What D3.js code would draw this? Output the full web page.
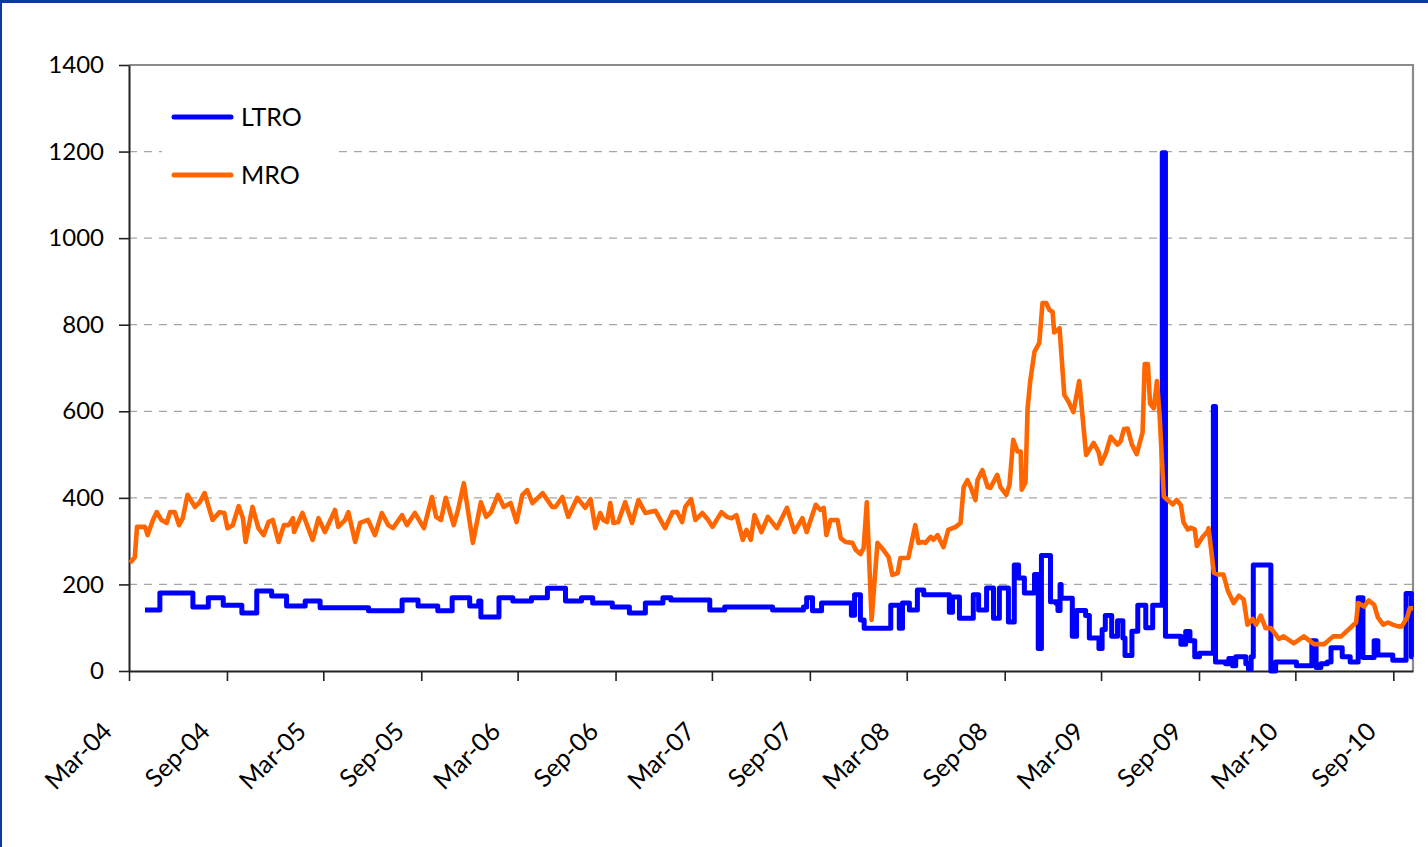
<!DOCTYPE html>
<html>
<head>
<meta charset="utf-8">
<script src="https://cdn.jsdelivr.net/npm/d3@7"></script>
<style>
  body { margin: 0; background: #fff; }
  svg text { font-family: Lato, "Open Sans", sans-serif; fill: #000; }
</style>
</head>
<body>
<svg id="chart" width="1428" height="847"></svg>
<script>
// weekly MRO allotment (EUR bn)
var mroDates = [
  "2004-03-03","2004-03-12","2004-03-16","2004-03-31","2004-04-05","2004-04-15","2004-04-22","2004-05-01",
  "2004-05-11","2004-05-17","2004-05-26","2004-06-03","2004-06-10","2004-06-19","2004-07-03","2004-07-12",
  "2004-07-21","2004-08-05","2004-08-18","2004-08-27","2004-09-02","2004-09-12","2004-09-23","2004-10-01",
  "2004-10-06","2004-10-19","2004-10-30","2004-11-09","2004-11-18","2004-11-26","2004-12-07","2004-12-17",
  "2004-12-26","2005-01-03","2005-01-05","2005-01-21","2005-02-09","2005-02-20","2005-03-04","2005-03-23",
  "2005-03-29","2005-04-11","2005-04-17","2005-04-30","2005-05-09","2005-05-24","2005-06-06","2005-06-19",
  "2005-07-01","2005-07-10","2005-07-27","2005-08-05","2005-08-20","2005-09-06","2005-09-21","2005-09-29",
  "2005-10-08","2005-10-17","2005-11-01","2005-11-09","2005-11-20","2005-12-07","2005-12-22","2006-01-01",
  "2006-01-10","2006-01-23","2006-02-03","2006-02-16","2006-02-27","2006-03-10","2006-03-19","2006-03-29",
  "2006-04-17","2006-05-05","2006-05-11","2006-05-24","2006-06-04","2006-06-21","2006-07-06","2006-07-16",
  "2006-07-25","2006-08-03","2006-08-09","2006-08-16","2006-08-22","2006-08-28","2006-09-06","2006-09-19",
  "2006-10-02","2006-10-14","2006-10-27","2006-11-15","2006-12-03","2006-12-17","2006-12-26","2007-01-04",
  "2007-01-10","2007-01-21","2007-01-29","2007-02-11","2007-02-22","2007-03-02","2007-03-19","2007-03-29",
  "2007-04-07","2007-04-16","2007-04-28","2007-05-05","2007-05-13","2007-05-20","2007-06-02","2007-06-14",
  "2007-07-01","2007-07-20","2007-08-03","2007-08-18","2007-08-26","2007-09-12","2007-09-21","2007-09-27",
  "2007-10-02","2007-10-10","2007-10-23","2007-10-29","2007-11-07","2007-11-20","2007-11-26","2007-12-05",
  "2007-12-11","2007-12-17","2007-12-26","2008-01-06","2008-01-17","2008-01-27","2008-02-03","2008-02-13",
  "2008-02-18","2008-03-04","2008-03-17","2008-03-23","2008-03-31","2008-04-05","2008-04-15","2008-04-20",
  "2008-04-28","2008-05-09","2008-05-18","2008-06-01","2008-06-10","2008-06-16","2008-06-23","2008-06-29",
  "2008-07-08","2008-07-12","2008-07-21","2008-07-31","2008-08-05","2008-08-18","2008-08-24","2008-09-04",
  "2008-09-10","2008-09-17","2008-09-25","2008-10-01","2008-10-03","2008-10-10","2008-10-14","2008-10-19",
  "2008-10-27","2008-11-05","2008-11-11","2008-11-18","2008-11-24","2008-11-30","2008-12-03","2008-12-13",
  "2008-12-22","2008-12-30","2009-01-08","2009-01-19","2009-02-01","2009-02-15","2009-02-24","2009-03-01",
  "2009-03-10","2009-03-19","2009-04-01","2009-04-07","2009-04-13","2009-04-20","2009-04-28","2009-05-07",
  "2009-05-18","2009-05-22","2009-05-28","2009-06-01","2009-06-08","2009-06-14","2009-06-19","2009-06-27",
  "2009-07-04","2009-07-14","2009-07-21","2009-07-29","2009-08-03","2009-08-11","2009-08-16","2009-08-24",
  "2009-08-28","2009-09-08","2009-09-17","2009-09-19","2009-09-29","2009-10-06","2009-10-17","2009-10-25",
  "2009-11-05","2009-11-15","2009-11-24","2009-12-01","2009-12-11","2009-12-17","2009-12-26","2010-01-04",
  "2010-01-14","2010-01-29","2010-02-07","2010-02-26","2010-03-17","2010-04-05","2010-04-24","2010-05-11",
  "2010-05-26","2010-06-23","2010-06-27","2010-07-08","2010-07-17","2010-07-27","2010-08-03","2010-08-13",
  "2010-08-22","2010-08-31","2010-09-10","2010-09-17","2010-09-27","2010-10-02","2010-10-08"
];
var mroValues = [
  250,263,333,333,314,349,367,349,
  342,367,367,337,353,407,379,390,
  411,349,367,365,330,337,381,353,
  298,379,330,314,344,349,298,337,
  337,353,321,365,303,353,321,372,
  333,349,367,298,342,349,314,365,
  337,330,360,337,365,330,402,356,
  349,400,337,372,434,296,390,356,
  367,407,379,388,344,407,418,388,
  411,379,379,402,356,400,377,397,
  330,365,349,344,388,342,344,390,
  342,395,365,370,330,367,367,344,
  379,397,349,365,349,333,367,356,
  353,360,303,326,303,360,321,356,
  330,377,321,353,321,384,372,377,
  314,349,349,307,298,296,280,270,
  284,390,118,296,280,263,222,226,
  261,261,337,296,298,296,310,303,
  314,286,326,333,342,425,441,425,
  395,441,464,425,423,453,425,407,
  430,534,507,507,419,435,606,670,
  738,758,850,850,834,830,782,792,
  638,622,598,670,499,527,507,479,
  503,541,523,531,559,560,523,501,
  551,709,709,618,607,670,591,403,
  395,385,395,383,343,327,331,327,
  289,310,322,330,227,223,223,186,
  157,174,165,107,120,107,128,99,
  99,74,80,64,80,62,62,80,
  80,112,157,149,163,153,124,107,
  112,107,103,103,124,145,145
];

// LTRO outstanding, value holds until the next date (step)
var ltroDates = [
  "2004-03-31","2004-04-28","2004-06-29","2004-07-28","2004-08-25","2004-09-29","2004-10-27","2004-11-24",
  "2004-12-22","2005-01-26","2005-02-23","2005-05-25","2005-07-27","2005-08-26","2005-10-02","2005-10-29",
  "2005-12-01","2005-12-18","2005-12-22","2006-01-25","2006-02-20","2006-03-27","2006-04-26","2006-05-30",
  "2006-06-29","2006-07-20","2006-08-26","2006-09-27","2006-10-27","2006-11-29","2006-12-14","2007-02-25",
  "2007-03-25","2007-06-23","2007-08-20","2007-08-26","2007-09-06","2007-09-23","2007-11-18","2007-11-24",
  "2007-12-05","2007-12-12","2008-01-31","2008-02-16","2008-02-22","2008-03-06","2008-03-21","2008-04-02",
  "2008-05-20","2008-05-26","2008-06-08","2008-07-04","2008-07-14","2008-07-29","2008-08-11","2008-08-22",
  "2008-09-08","2008-09-19","2008-09-27","2008-10-08","2008-10-27","2008-11-03","2008-11-09","2008-11-26",
  "2008-12-07","2008-12-10","2008-12-14","2008-12-16","2009-01-06","2009-01-14","2009-01-31","2009-02-07",
  "2009-02-25","2009-03-03","2009-03-09","2009-03-21","2009-04-01","2009-04-11","2009-04-15","2009-04-28",
  "2009-05-09","2009-05-24","2009-06-06","2009-06-24","2009-06-30","2009-07-29","2009-08-07","2009-08-15",
  "2009-08-24","2009-09-02","2009-09-28","2009-10-02","2009-10-21","2009-10-27","2009-11-03","2009-11-09",
  "2009-11-28","2009-12-03","2009-12-08","2009-12-12","2010-01-14","2010-01-23","2010-03-03","2010-04-01",
  "2010-04-09","2010-04-18","2010-04-30","2010-05-07","2010-05-28","2010-06-12","2010-06-27","2010-07-06",
  "2010-07-27","2010-08-03","2010-08-31","2010-09-25","2010-10-05","2010-10-08"
];
var ltroValues = [
  141,180,148,169,152,134,185,173,
  150,162,146,139,164,150,139,169,
  150,162,125,169,162,169,191,162,
  169,157,148,134,157,169,164,141,
  148,141,148,169,139,157,129,176,
  118,99,152,99,157,141,187,176,
  136,171,122,176,141,192,122,192,
  113,245,215,180,223,52,267,160,
  156,140,200,168,80,140,128,76,
  52,96,128,80,116,76,36,92,
  152,100,152,1197,80,62,91,70,
  33,41,611,21,17,29,12,33,
  17,4,33,245,0,21,12,70,
  8,17,21,54,33,21,169,31,
  70,37,25,179,33,33
];

var yTicks = [0, 200, 400, 600, 800, 1000, 1200, 1400];
var xTickLabels = ["Mar-04","Sep-04","Mar-05","Sep-05","Mar-06","Sep-06","Mar-07",
                   "Sep-07","Mar-08","Sep-08","Mar-09","Sep-09","Mar-10","Sep-10"];
var seriesNames = ["LTRO", "MRO"];
var seriesColors = ["#0000ff", "#ff6600"];

var parseDay = d3.timeParse("%Y-%m-%d");
var parseTick = d3.timeParse("%b-%y");

var svg = d3.select("#chart");
var plotLeft = 129, plotRight = 1413, plotTop = 65, plotBottom = 671;

var x = d3.scaleTime()
    .domain([parseDay("2004-03-01"), parseDay("2010-10-08")])
    .range([plotLeft, plotRight]);
var y = d3.scaleLinear().domain([0, 1400]).range([plotBottom, plotTop]);

// outer frame
svg.append("rect").attr("x", 0).attr("y", 0).attr("width", 1428).attr("height", 847).attr("fill", "#fff");
svg.append("rect").attr("x", 0).attr("y", 0).attr("width", 1428).attr("height", 3).attr("fill", "#0b3a9c");
svg.append("rect").attr("x", 0).attr("y", 0).attr("width", 2).attr("height", 847).attr("fill", "#0b3a9c");

// gridlines
svg.append("g").selectAll("line")
    .data(yTicks.filter(function (d) { return d > 0 && d < 1400; }))
    .enter().append("line")
    .attr("x1", plotLeft).attr("x2", plotRight)
    .attr("y1", function (d) { return y(d); })
    .attr("y2", function (d) { return y(d); })
    .attr("stroke", "#a6a6a6").attr("stroke-width", 1.2)
    .attr("stroke-dasharray", "8,7");

// plot border top / right
svg.append("path")
    .attr("d", "M" + plotLeft + "," + plotTop + "H" + plotRight + "V" + plotBottom)
    .attr("fill", "none").attr("stroke", "#8c8c8c").attr("stroke-width", 2.2);

// axes
var yAxis = d3.axisLeft(y).tickValues(yTicks).tickFormat(d3.format("d"))
    .tickSize(10).tickSizeOuter(0).tickPadding(15);
var gy = svg.append("g").attr("transform", "translate(" + plotLeft + ",0)").call(yAxis);
gy.selectAll("text").style("font-size", "24px");

var xTickDates = xTickLabels.map(function (s) { return parseTick(s); });
var xAxis = d3.axisBottom(x).tickValues(xTickDates)
    .tickFormat(d3.timeFormat("%b-%y")).tickSize(10).tickSizeOuter(0);
var gx = svg.append("g").attr("transform", "translate(0," + plotBottom + ")").call(xAxis);
gx.selectAll("text")
    .style("font-size", "25px")
    .attr("x", 0).attr("y", 0).attr("dy", 0)
    .attr("text-anchor", "end")
    .attr("transform", "translate(-16,62) rotate(-45)");

[gx, gy].forEach(function (g) {
    g.selectAll(".domain").attr("stroke", "#222").attr("stroke-width", 2);
    g.selectAll(".tick line").attr("stroke", "#222").attr("stroke-width", 1.6);
});

// series
var ltro = ltroDates.map(function (d, i) { return [parseDay(d), ltroValues[i]]; });
var mro = mroDates.map(function (d, i) { return [parseDay(d), mroValues[i]]; });

var stepLine = d3.line()
    .x(function (d) { return x(d[0]); })
    .y(function (d) { return y(d[1]); })
    .curve(d3.curveStepAfter);
var plainLine = d3.line()
    .x(function (d) { return x(d[0]); })
    .y(function (d) { return y(d[1]); });

svg.append("path").datum(ltro)
    .attr("d", stepLine)
    .attr("fill", "none").attr("stroke", seriesColors[0])
    .attr("stroke-width", 5).attr("stroke-linejoin", "round");
svg.append("path").datum(mro)
    .attr("d", plainLine)
    .attr("fill", "none").attr("stroke", seriesColors[1])
    .attr("stroke-width", 4.6).attr("stroke-linejoin", "round");

// legend
var legend = svg.append("g");
legend.append("rect").attr("x", 162).attr("y", 88).attr("width", 170).attr("height", 118).attr("fill", "#fff");
seriesNames.forEach(function (name, i) {
    var ly = 117 + i * 58;
    legend.append("line")
        .attr("x1", 174).attr("x2", 231).attr("y1", ly).attr("y2", ly)
        .attr("stroke", seriesColors[i]).attr("stroke-width", 5).attr("stroke-linecap", "round");
    legend.append("text")
        .attr("x", 241).attr("y", ly + 9)
        .style("font-size", "25px")
        .text(name);
});
</script>
</body>
</html>
